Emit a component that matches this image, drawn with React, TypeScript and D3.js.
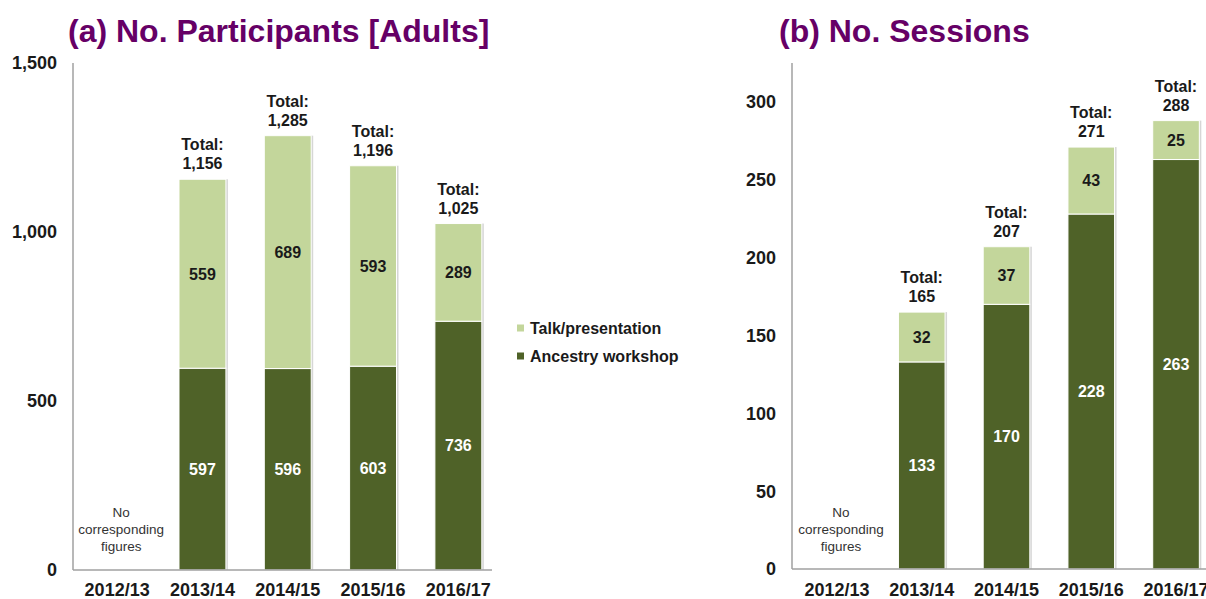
import * as d3 from "d3";

const years = ["2012/13", "2013/14", "2014/15", "2015/16", "2016/17"];
const seriesNames = ["Talk/presentation", "Ancestry workshop"];

// null = no corresponding figures
const participantsWorkshop = [null, 597, 596, 603, 736];
const participantsTalk = [null, 559, 689, 593, 289];
const participantsTicks = [0, 500, 1000, 1500];

const sessionsWorkshop = [null, 133, 170, 228, 263];
const sessionsTalk = [null, 32, 37, 43, 25];
const sessionsTicks = [0, 50, 100, 150, 200, 250, 300];

const FONT = "'Liberation Sans', Arial, sans-serif";
const DARK = "#4f6228";
const LIGHT = "#c3d69b";
const TEXT = "#1a1a1a";
const PURPLE = "#660066";

type PanelProps = {
  title: string;
  titleX: number;
  workshop: (number | null)[];
  talk: (number | null)[];
  ticks: number[];
  yMax: number;
  xRange: [number, number];
  axisX: number;
  axisEnd: number;
  y0: number;
};

function Panel({ title, titleX, workshop, talk, ticks, yMax, xRange, axisX, axisEnd, y0 }: PanelProps) {
  const x = d3.scaleBand<string>().domain(years).range(xRange).paddingInner(0.45).paddingOuter(0.225);
  const y = d3.scaleLinear().domain([0, yMax]).range([y0, 63]);
  const fmt = d3.format(",");

  const rows = years.map((yr, i) => ({ yr, workshop: workshop[i] ?? 0, talk: talk[i] ?? 0, missing: workshop[i] == null }));
  const stacked = d3.stack<(typeof rows)[number]>().keys(["workshop", "talk"])(rows as any);

  return (
    <g>
      <text x={titleX} y={42} fontFamily={FONT} fontWeight="bold" fontSize={32} fill={PURPLE}>
        {title}
      </text>

      {/* bar shadows */}
      {rows.filter((r) => !r.missing).map((r) => (
        <rect key={"s" + r.yr} x={x(r.yr)! + 2} y={y(r.workshop + r.talk)} width={x.bandwidth()} height={y0 - y(r.workshop + r.talk)} fill="#d6d6d6" />
      ))}

      {stacked.map((layer) => (
        <g key={layer.key}>
          {layer.map((d, i) =>
            rows[i].missing ? null : (
              <g key={years[i]}>
                <rect
                  x={x(years[i])}
                  y={y(d[1])}
                  width={x.bandwidth()}
                  height={y(d[0]) - y(d[1])}
                  fill={layer.key === "workshop" ? DARK : LIGHT}
                  stroke="#ffffff"
                  strokeWidth={1}
                />
                <text
                  x={x(years[i])! + x.bandwidth() / 2}
                  y={(y(d[0]) + y(d[1])) / 2}
                  dy="0.36em"
                  textAnchor="middle"
                  fontFamily={FONT}
                  fontWeight="bold"
                  fontSize={16}
                  fill={layer.key === "workshop" ? "#ffffff" : TEXT}
                >
                  {fmt(d[1] - d[0])}
                </text>
              </g>
            )
          )}
        </g>
      ))}

      {/* totals */}
      {rows.filter((r) => !r.missing).map((r) => {
        const top = y(r.workshop + r.talk);
        const cx = x(r.yr)! + x.bandwidth() / 2;
        return (
          <text key={"t" + r.yr} x={cx} textAnchor="middle" fontFamily={FONT} fontWeight="bold" fontSize={16} fill={TEXT}>
            <tspan x={cx} y={top - 29}>Total:</tspan>
            <tspan x={cx} y={top - 10}>{fmt(r.workshop + r.talk)}</tspan>
          </text>
        );
      })}

      {rows.filter((r) => r.missing).map((r) => {
        const cx = x(r.yr)! + x.bandwidth() / 2 + 4;
        return (
          <text key={"m" + r.yr} textAnchor="middle" fontFamily={FONT} fontSize={13.5} fill="#333333">
            <tspan x={cx} y={517}>No</tspan>
            <tspan x={cx} y={534}>corresponding</tspan>
            <tspan x={cx} y={551}>figures</tspan>
          </text>
        );
      })}

      {/* axes */}
      <line x1={axisX} x2={axisX} y1={63} y2={y0} stroke="#a0a0a0" strokeWidth={1.5} />
      <line x1={axisX} x2={axisEnd} y1={y0} y2={y0} stroke="#a0a0a0" strokeWidth={1.5} />
      {ticks.map((t) => (
        <text key={t} x={axisX - 16} y={y(t)} dy="0.36em" textAnchor="end" fontFamily={FONT} fontWeight="bold" fontSize={18} fill={TEXT}>
          {fmt(t)}
        </text>
      ))}
      {years.map((yr) => (
        <text key={yr} x={x(yr)! + x.bandwidth() / 2} y={596} textAnchor="middle" fontFamily={FONT} fontWeight="bold" fontSize={18} fill={TEXT}>
          {yr}
        </text>
      ))}
    </g>
  );
}

export default function App() {
  const legendY = d3.scalePoint<string>().domain(seriesNames).range([328, 356]);
  return (
    <svg width={1206} height={599} style={{ position: "absolute", left: 0, top: 0, display: "block", background: "#ffffff" }}>
      <Panel
        title="(a) No. Participants [Adults]"
        titleX={68}
        workshop={participantsWorkshop}
        talk={participantsTalk}
        ticks={participantsTicks}
        yMax={1500}
        xRange={[74.5, 501]}
        axisX={73}
        axisEnd={492}
        y0={570}
      />
      <Panel
        title="(b) No. Sessions"
        titleX={779}
        workshop={sessionsWorkshop}
        talk={sessionsTalk}
        ticks={sessionsTicks}
        yMax={325}
        xRange={[794.6, 1218.4]}
        axisX={792}
        axisEnd={1220}
        y0={569}
      />
      {seriesNames.map((name, i) => (
        <g key={name}>
          <rect x={517} y={legendY(name)! - 3.5} width={7} height={7} fill={i === 0 ? LIGHT : DARK} />
          <text x={530} y={legendY(name)} dy="0.36em" fontFamily={FONT} fontWeight="bold" fontSize={16} fill={TEXT}>
            {name}
          </text>
        </g>
      ))}
    </svg>
  );
}
